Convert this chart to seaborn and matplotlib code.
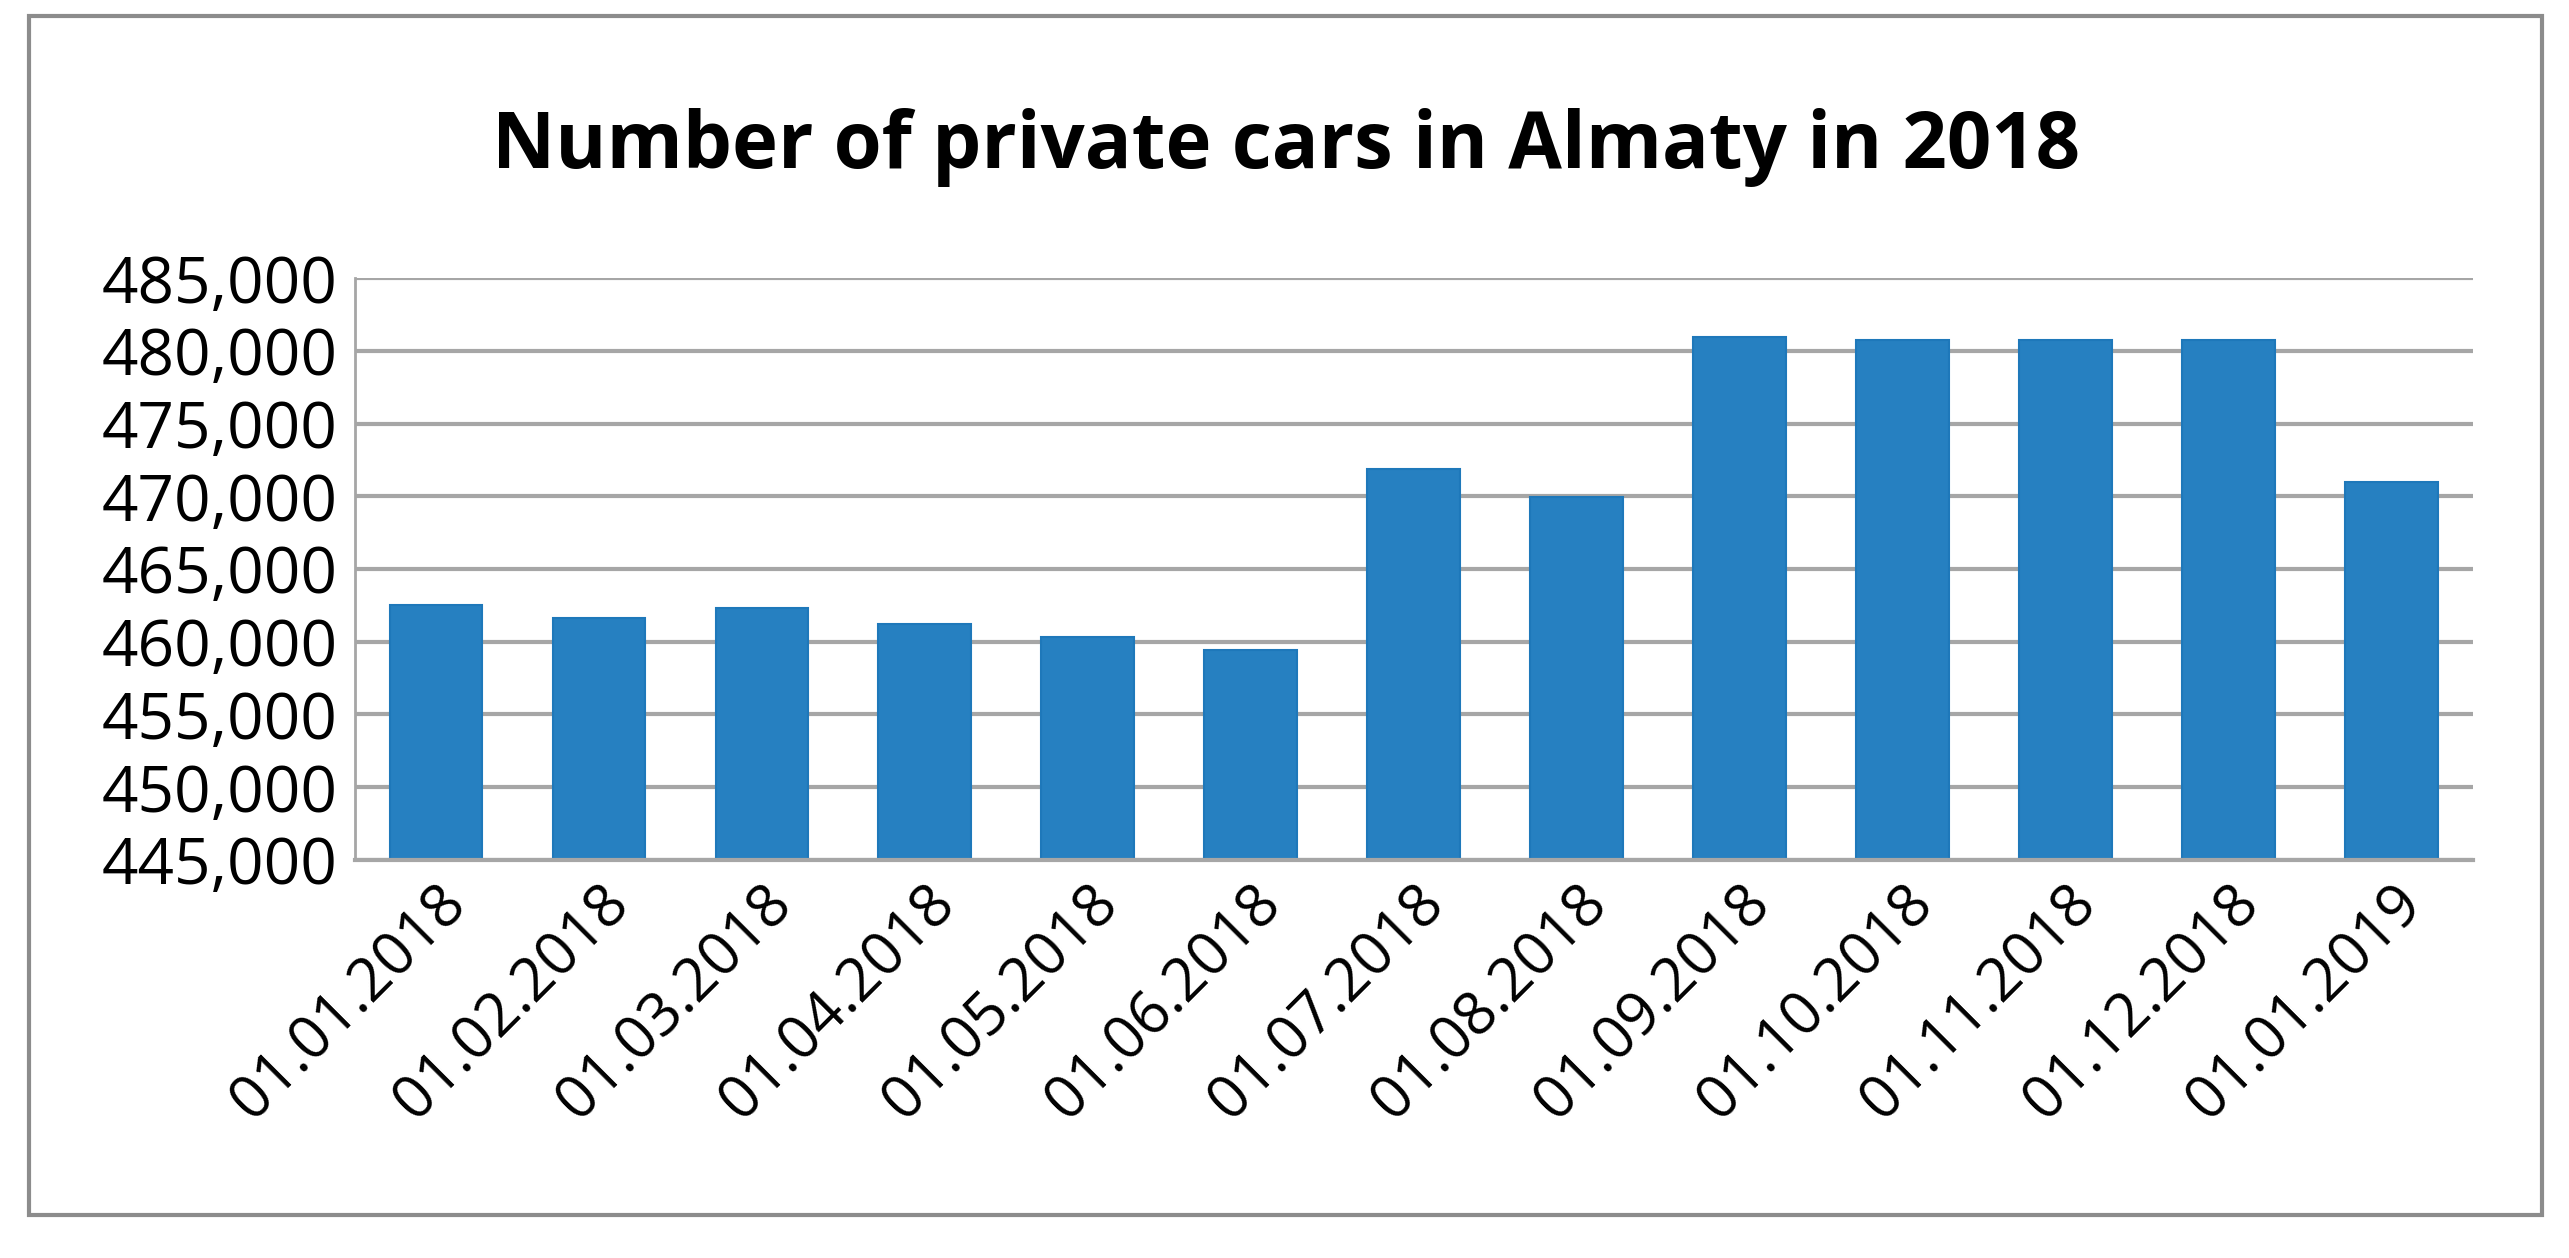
import matplotlib
matplotlib.use('Agg')
import matplotlib.pyplot as plt
import matplotlib.ticker as mticker
from matplotlib.patches import Rectangle
import seaborn as sns
import pandas as pd

sns.set_theme(style='white')
plt.rcParams['font.family'] = ['Open Sans', 'DejaVu Sans']

dates = ['01.01.2018', '01.02.2018', '01.03.2018', '01.04.2018', '01.05.2018',
         '01.06.2018', '01.07.2018', '01.08.2018', '01.09.2018', '01.10.2018',
         '01.11.2018', '01.12.2018', '01.01.2019']
cars = [462500, 461650, 462300, 461200, 460300, 459450, 471850, 469970,
        480925, 480750, 480750, 480750, 470950]
yticks = list(range(445000, 485001, 5000))

df = pd.DataFrame({'date': dates, 'cars': cars})

fig = plt.figure(figsize=(25.69, 12.58), dpi=100)
ax = fig.add_axes([0.138, 0.3164, 0.8247, 0.4626])

sns.barplot(data=df, x='date', y='cars', color='#2680C1', width=0.57,
            saturation=1, edgecolor='#1E78BA', linewidth=1.5, ax=ax)

ax.set_ylim(445000, 485000)
ax.set_yticks(yticks)
ax.yaxis.set_major_formatter(mticker.FuncFormatter(lambda v, p: f'{int(v):,}'))
ax.grid(axis='y', color='#A6A6A6', linewidth=3)
ax.set_axisbelow(True)
for s in ['top', 'right']:
    ax.spines[s].set_visible(False)
ax.spines['left'].set_color('#A6A6A6')
ax.spines['left'].set_linewidth(2)
ax.spines['bottom'].set_color('#A6A6A6')
ax.spines['bottom'].set_linewidth(3)
ax.set_xlabel('')
ax.set_ylabel('')
ax.tick_params(axis='y', labelsize=46, length=0, pad=12, colors='black')
ax.tick_params(axis='x', labelsize=43, length=0, pad=10, colors='black')
plt.setp(ax.get_xticklabels(), rotation=45, ha='right', rotation_mode='anchor')

fig.text(0.5005, 0.883, 'Number of private cars in Almaty in 2018', ha='center', va='center',
         fontsize=56, fontweight='bold', color='black')

fig.patches.append(Rectangle((0.0113, 0.0342), 0.9782, 0.9528, transform=fig.transFigure,
                             fill=False, edgecolor='#8C8C8C', linewidth=3))

plt.savefig('out.png', dpi=100)
plt.close()
